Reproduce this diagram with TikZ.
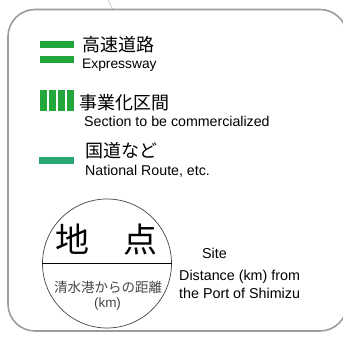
\documentclass[tikz,border=0pt]{standalone}
\usepackage{fontspec}
\setmainfont{Liberation Sans}
\newfontfamily\jp{Noto Sans CJK JP}
\definecolor{exgreen}{HTML}{22A83A}
\definecolor{natgreen}{HTML}{2AA676}
\definecolor{framegray}{HTML}{9C9C9C}
\definecolor{subgray}{HTML}{444444}
\begin{document}
\begin{tikzpicture}[x=1pt,y=-1pt,
  lbl/.style={inner sep=0pt, anchor=base west},
  jplbl/.style={lbl, font=\jp\fontsize{18}{20}\selectfont},
  enlbl/.style={lbl, font=\fontsize{14.2}{16}\selectfont},
  rtlbl/.style={lbl, font=\fontsize{14.3}{16}\selectfont}]
\useasboundingbox (0,0) rectangle (343,338);
% leader line at top
\coordinate (lt) at (108,0);
\coordinate (lb) at (113,9.5);
\draw[gray!50, line width=0.6pt] (lt) -- (lb);
% frame
\draw[framegray, line width=1.6pt, rounded corners=27pt] (8,9.5) rectangle (347,331);
% expressway symbol
\fill[exgreen] (40,41) rectangle (74,47.5);
\fill[exgreen] (40,56) rectangle (74,63);
% section bars
\foreach \i in {0,1,2,3}{
  \fill[exgreen] ({40+9*\i},90) rectangle ({46.7+9*\i},110.7);
}
% national route
\fill[natgreen] (39,157) rectangle (74,164);
% labels
\node[jplbl] (t1) at (82,51.7) {高速道路};
\node[lbl, font=\fontsize{13.8}{16}\selectfont] (e1) at (82,68) {Expressway};
\node[jplbl] (t2) at (79,109.4) {事業化区間};
\node[enlbl] (e2) at (84,126) {Section to be commercialized};
\node[jplbl] (t3) at (85,157.7) {国道など};
\node[enlbl] (e3) at (85,175) {National Route, etc.};
% site circle
\node[circle, draw=subgray, line width=0.7pt, minimum size=129pt, inner sep=0pt] (site) at (107,263.5) {};
\draw[black, line width=0.9pt] (site.west) -- (site.east);
\node[inner sep=0pt, anchor=base, font=\jp\fontsize{34}{36}\selectfont] (name) at (107,252.6) {地　点};
\node[inner sep=0pt, anchor=base, text=subgray, font=\jp\fontsize{13.5}{15}\selectfont] (dist) at (108,292.5) {清水港からの距離};
\node[inner sep=0pt, anchor=base, text=subgray, font=\fontsize{13.5}{15}\selectfont] (km) at (107.5,307.5) {(km)};
% right explanation
\node[rtlbl] (s1) at (202,258) {Site};
\node[rtlbl] (s2) at (179,280) {Distance (km) from};
\node[rtlbl] (s3) at (179,298) {the Port of Shimizu};
\end{tikzpicture}
\end{document}
